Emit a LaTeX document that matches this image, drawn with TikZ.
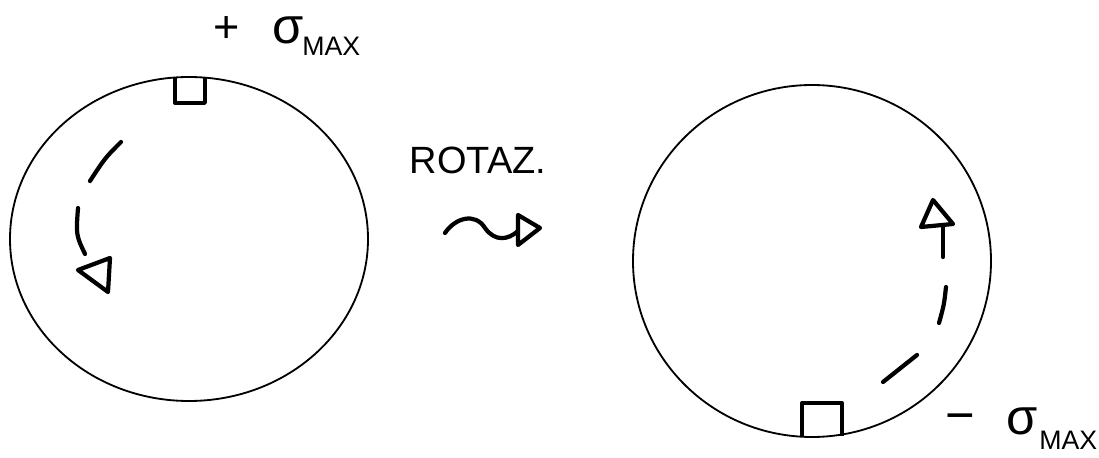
\documentclass[tikz,border=0pt]{standalone}
\usepackage{fontspec}
\setmainfont{Liberation Sans}
\usepackage{tikz}
\usetikzlibrary{positioning, arrows.meta}

\tikzset{
  disc/.style={line width=1.3pt},
  gauge/.style={line width=2.4pt, line join=round},
  stroke/.style={line width=3pt, line cap=round, line join=round},
  lbl/.style={inner sep=0pt, font=\fontsize{27}{30}\selectfont}
}

\begin{document}
\begin{tikzpicture}[x=0.025cm, y=-0.025cm]
    \useasboundingbox (0,0) rectangle (1099,458);

    % before rotation
    \draw[disc] (189,239) ellipse [x radius=179, y radius=162];
    \draw[gauge] (175,78) -- (175,103) -- (205,103) -- (205,78);
    \draw[stroke] (121,142) .. controls (105,158) .. (90,181);
    \draw[stroke] (78,208) .. controls (76,235) .. (85,254);
    \draw[stroke] (78,270) -- (110,258) -- (108,292) -- cycle;
    \node[lbl, font=\fontsize{32}{34}\selectfont] (plus) at (227,30) {+};
    \node[lbl, font=\fontsize{36}{38}\selectfont] (sigA) at (288,30) {σ};
    \node[lbl, font=\fontsize{19}{20}\selectfont, anchor=south west] (maxA) at (302,56) {MAX};

    % rotation arrow
    \node[lbl] (rot) at (478,160) {ROTAZ.};
    \draw[stroke] (445,233) .. controls (455,218) and (475,212) .. (485,228)
                  .. controls (495,242) and (508,240) .. (518,231);
    \draw[stroke] (518,215) -- (540,228) -- (518,245) -- cycle;

    % after rotation
    \draw[disc] (812,261) ellipse [x radius=179, y radius=176];
    \draw[gauge] (802,436) -- (802,403) -- (842,403) -- (842,436);
    \draw[stroke] (933,200) -- (921,227) -- (953,224) -- cycle;
    \draw[stroke] (943,227) -- (943,257);
    \draw[stroke] (946,287) .. controls (944,305) .. (939,323);
    \draw[stroke] (917,355) -- (883,382);
    \node[lbl, font=\fontsize{36}{38}\selectfont] (minus) at (960,423) {−};
    \node[lbl, font=\fontsize{36}{38}\selectfont] (sigB) at (1022,421) {σ};
    \node[lbl, font=\fontsize{19}{20}\selectfont, anchor=south west] (maxB) at (1039,450) {MAX};
\end{tikzpicture}
\end{document}
